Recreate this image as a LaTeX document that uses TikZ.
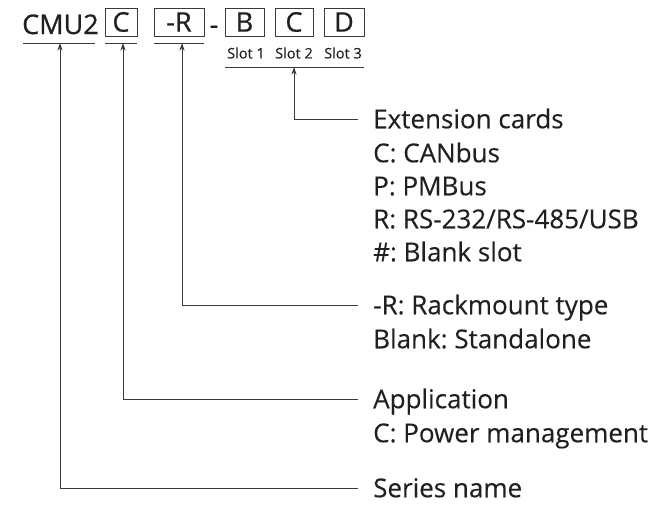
\documentclass[tikz,border=0pt]{standalone}
\usepackage{fontspec}
\setmainfont{Open Sans}[FakeBold=0.25]
\newfontfamily\codefont{Open Sans}[FakeBold=0.7]
\usetikzlibrary{arrows.meta}
\definecolor{ink}{HTML}{231F20}
\definecolor{wire}{HTML}{3A3A3A}
\frenchspacing
\tikzset{
  lbl/.style={anchor=west, inner sep=0pt, text height=18.5pt, text depth=0pt, font=\fontsize{26}{29}\selectfont, text=ink},
  code/.style={inner sep=0pt, text height=19pt, text depth=0pt, font=\codefont\fontsize{27}{29}\selectfont, text=ink},
  box/.style={draw=wire, line width=0.9pt, minimum height=28pt, inner sep=0pt, font=\codefont\fontsize{27}{29}\selectfont, text=ink},
  slot/.style={inner sep=0pt, font=\fontsize{14.5}{16}\selectfont, text=ink},
  rule/.style={draw=wire, line width=0.9pt},
  lead/.style={draw=wire, line width=0.9pt, {Stealth[length=7.5pt,width=5pt]}-}
}
\begin{document}
\begin{tikzpicture}[x=1pt, y=-1pt]
\useasboundingbox (0,0) rectangle (648,515);
% model code
\node[code, anchor=west] (cmu) at (22,24.5) {CMU2};
\node[box, minimum width=32pt] (bC) at (121,22) {C};
\node[box, minimum width=50pt] (bR) at (179,22) {-R};
\node[code] (dash) at (214,24.5) {-};
\node[box, minimum width=39pt] (bB) at (244.5,22) {B};
\node[box, minimum width=38pt] (bC2) at (294,22) {C};
\node[box, minimum width=40pt] (bD) at (344,22) {D};
\node[slot] (s1) at (246,53) {Slot 1};
\node[slot] (s2) at (294,53) {Slot 2};
\node[slot] (s3) at (343,53) {Slot 3};
% underlines
\draw[rule] (23,43) -- (95,43);
\draw[rule] (105,43) -- (137,43);
\draw[rule] (154,43) -- (204,43);
\draw[rule] (225,67) -- (364,67);
\coordinate (uCMU) at (60,43);
\coordinate (uC) at (123,43);
\coordinate (uR) at (182,43);
\coordinate (uS) at (294,67);
% descriptions
\node[lbl] (ext) at (373,119) {Extension cards};
\node[lbl] (can) at (373,153) {C: CANbus};
\node[lbl] (pmb) at (373,186) {P: PMBus};
\node[lbl] (rs) at (373,219) {R: RS-232/RS-485/USB};
\node[lbl] (blk) at (373,252) {\#: Blank slot};
\node[lbl] (rack) at (373,305) {-R: Rackmount type};
\node[lbl] (stand) at (373,339) {Blank: Standalone};
\node[lbl] (app) at (373,399) {Application};
\node[lbl] (pow) at (373,433) {C: Power management};
\node[lbl] (ser) at (373,488) {Series name};
% leaders
\draw[lead] (uS) |- ([xshift=-15pt]ext.west);
\draw[lead] (uR) |- ([xshift=-15pt]rack.west);
\draw[lead] (uC) |- ([xshift=-15pt]app.west);
\draw[lead] (uCMU) |- ([xshift=-15pt]ser.west);
\end{tikzpicture}
\end{document}
